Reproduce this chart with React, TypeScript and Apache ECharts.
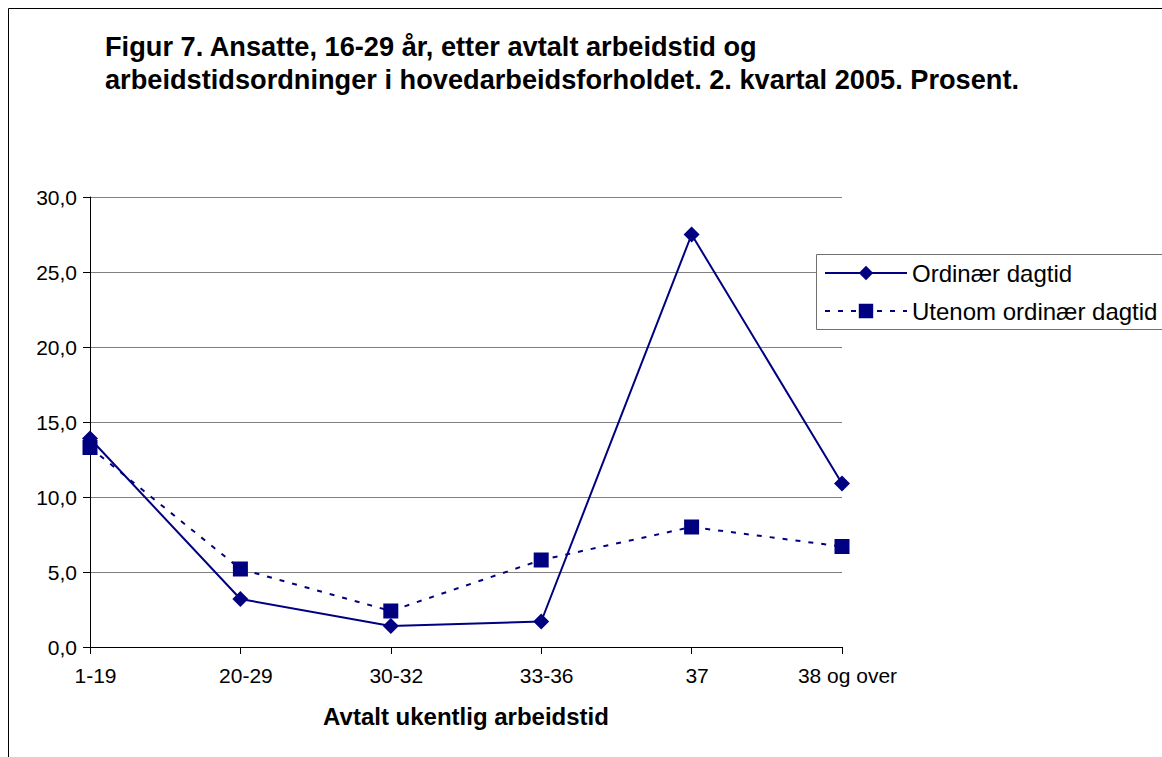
import React, { useEffect, useRef } from "react";
import * as echarts from "echarts";

const categories = ["1-19", "20-29", "30-32", "33-36", "37", "38 og over"];
const ordinaer = [13.9, 3.2, 1.4, 1.7, 27.5, 10.9];
const utenom = [13.3, 5.2, 2.4, 5.8, 8.0, 6.7];
const seriesNames = ["Ordinær dagtid", "Utenom ordinær dagtid"];
const titleText =
  "Figur 7. Ansatte, 16-29 år, etter avtalt arbeidstid og\narbeidstidsordninger i hovedarbeidsforholdet. 2. kvartal 2005. Prosent.";
const xAxisName = "Avtalt ukentlig arbeidstid";
const yMin = 0;
const yMax = 30;
const yInterval = 5;

const FONT = "'Liberation Sans', Arial, Helvetica, sans-serif";
const NAVY = "#000080";

export default function App() {
  const ref = useRef<HTMLDivElement>(null);
  useEffect(() => {
    if (!ref.current) return;
    const chart = echarts.init(ref.current, undefined, { renderer: "svg" });
    chart.setOption({
      animation: false,
      backgroundColor: "#fff",
      title: {
        text: titleText,
        left: 105,
        top: 30,
        padding: 0,
        textStyle: {
          fontFamily: FONT,
          fontSize: 27.2,
          fontWeight: "bold",
          color: "#000",
          lineHeight: 33,
        },
      },
      grid: { left: 90, top: 197, width: 752, height: 450, containLabel: false },
      legend: {
        orient: "vertical",
        left: 824,
        top: 259,
        padding: 0,
        itemWidth: 82,
        itemHeight: 18,
        itemGap: 10,
        textStyle: { fontFamily: FONT, fontSize: 24, color: "#000", lineHeight: 28 },
        data: seriesNames,
      },
      xAxis: {
        type: "category",
        data: categories,
        boundaryGap: false,
        name: xAxisName,
        nameLocation: "middle",
        nameGap: 57,
        nameTextStyle: {
          fontFamily: FONT,
          fontSize: 24,
          fontWeight: "bold",
          color: "#000",
          lineHeight: 24,
          verticalAlign: "top",
        },
        axisLine: { lineStyle: { color: "#000", width: 1 } },
        axisTick: { show: true, length: 7, inside: false, alignWithLabel: true, lineStyle: { color: "#000" } },
        axisLabel: {
          fontFamily: FONT,
          fontSize: 21,
          color: "#000",
          margin: 18,
          padding: [0, 0, 0, 11],
          interval: 0,
        },
        splitLine: { show: false },
      },
      yAxis: {
        type: "value",
        min: yMin,
        max: yMax,
        interval: yInterval,
        axisLine: { show: true, lineStyle: { color: "#000", width: 1 } },
        axisTick: { show: true, length: 7, lineStyle: { color: "#000" } },
        axisLabel: {
          fontFamily: FONT,
          fontSize: 21,
          color: "#000",
          margin: 13,
          formatter: (v: number) => v.toFixed(1).replace(".", ","),
        },
        splitLine: { show: true, lineStyle: { color: "#808080", width: 1 } },
      },
      graphic: [
        {
          type: "rect",
          z: 3,
          shape: { x: 816.5, y: 254.5, width: 500, height: 75 },
          style: { fill: "#fff", stroke: "none" },
        },
        {
          type: "polyline",
          z: 3,
          shape: { points: [[1400, 254.5], [816.5, 254.5], [816.5, 329.5], [1400, 329.5]] },
          style: { fill: "none", stroke: "#707070", lineWidth: 1 },
        },
        {
          type: "polyline",
          z: 10,
          silent: true,
          shape: { points: [[8.5, 1000], [8.5, 8.5], [1400, 8.5]] },
          style: { fill: "none", stroke: "#000", lineWidth: 1 },
        },
      ],
      series: [
        {
          name: seriesNames[0],
          type: "line",
          data: ordinaer,
          symbol: "diamond",
          symbolSize: 16,
          z: 2,
          lineStyle: { color: NAVY, width: 2, type: "solid" },
          itemStyle: { color: NAVY },
        },
        {
          name: seriesNames[1],
          type: "line",
          data: utenom,
          symbol: "rect",
          symbolSize: 15,
          z: 3,
          lineStyle: { color: NAVY, width: 2, type: [5, 8] },
          itemStyle: { color: NAVY },
        },
      ],
    });
    return () => chart.dispose();
  }, []);
  return (
    <div
      ref={ref}
      style={{ position: "fixed", left: 0, top: 0, width: 1162, height: 757 }}
    />
  );
}
